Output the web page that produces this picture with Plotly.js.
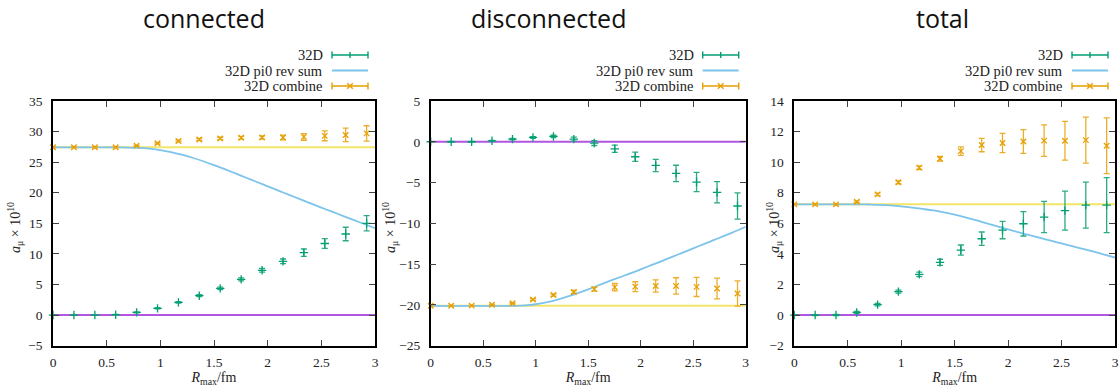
<!DOCTYPE html>
<html>
<head>
<meta charset="utf-8">
<script src="https://cdn.plot.ly/plotly-3.0.1.min.js"></script>
<style>
html,body{margin:0;padding:0;background:#fff;}
#chart{width:1119px;height:390px;}
</style>
</head>
<body>
<div id="chart"></div>
<script>
// ---------- data ----------
const panelTitles = ['connected', 'disconnected', 'total'];
const legendNames = ['32D', '32D pi0 rev sum', '32D combine'];
const xTitle = '<i>R</i><sub>max</sub>/fm';
const yTitle = '<i>a</i><sub>μ</sub> × 10<sup>10</sup>';

// R_max values of the lattice points (fm)
const R = [0, 0.195, 0.39, 0.584, 0.779, 0.974, 1.169, 1.363, 1.558, 1.753, 1.948, 2.143, 2.337, 2.532, 2.727, 2.922];
// R_max values of the smooth curve (fm)
const Rc = [0, 0.1, 0.2, 0.3, 0.4, 0.5, 0.6, 0.7, 0.8, 0.9, 1.0, 1.1, 1.2, 1.3, 1.4, 1.5, 1.6, 1.7, 1.8, 1.9, 2.0, 2.1, 2.2, 2.3, 2.4, 2.5, 2.6, 2.7, 2.8, 2.9, 3.0];
const Rends = [0, 3];

// connected
const connGreen    = [0, 0, 0, 0.05, 0.44, 1.09, 2.07, 3.16, 4.36, 5.83, 7.31, 8.78, 10.2, 11.7, 13.25, 15.0];
const connGreenErr = [0.02, 0.03, 0.04, 0.05, 0.08, 0.1, 0.13, 0.16, 0.2, 0.25, 0.3, 0.38, 0.6, 0.8, 1.1, 1.25];
const connOrange    = [27.43, 27.43, 27.43, 27.45, 27.7, 28.08, 28.46, 28.7, 28.87, 29.0, 29.03, 29.03, 29.13, 29.3, 29.45, 29.7];
const connOrangeErr = [0.05, 0.05, 0.05, 0.06, 0.1, 0.12, 0.14, 0.17, 0.2, 0.22, 0.28, 0.38, 0.55, 0.8, 1.1, 1.25];
const connBlue = [27.4, 27.4, 27.4, 27.4, 27.4, 27.4, 27.4, 27.39, 27.33, 27.2, 26.98, 26.65, 26.22, 25.72, 25.15, 24.52, 23.85, 23.15, 22.45, 21.75, 21.05, 20.35, 19.65, 18.95, 18.25, 17.57, 16.9, 16.22, 15.55, 14.88, 14.2];
const connFlat = [27.43, 27.43];

// disconnected
const discGreen    = [0, 0, 0, 0.12, 0.33, 0.53, 0.65, 0.33, -0.16, -0.86, -1.84, -2.9, -3.88, -4.94, -6.2, -7.88];
const discGreenErr = [0.02, 0.03, 0.04, 0.06, 0.08, 0.1, 0.15, 0.25, 0.3, 0.45, 0.57, 0.75, 1.0, 1.18, 1.3, 1.6];
const discOrange    = [-20.12, -20.12, -20.1, -20.0, -19.8, -19.35, -18.8, -18.42, -18.07, -17.83, -17.77, -17.7, -17.68, -17.8, -18.0, -18.6];
const discOrangeErr = [0.04, 0.04, 0.05, 0.06, 0.08, 0.1, 0.13, 0.18, 0.25, 0.47, 0.6, 0.75, 1.0, 1.18, 1.27, 1.55];
const discBlue = [-20.12, -20.12, -20.12, -20.12, -20.12, -20.12, -20.12, -20.12, -20.12, -20.07, -19.93, -19.7, -19.38, -19.0, -18.57, -18.1, -17.6, -17.1, -16.62, -16.15, -15.65, -15.14, -14.63, -14.11, -13.6, -13.08, -12.56, -12.04, -11.52, -10.98, -10.42];
const discFlat = [-20.12, -20.12];

// total
const totGreen    = [0, 0, 0, 0.17, 0.68, 1.53, 2.66, 3.45, 4.25, 4.99, 5.56, 5.97, 6.41, 6.83, 7.19, 7.19];
const totGreenErr = [0.02, 0.03, 0.04, 0.06, 0.08, 0.1, 0.14, 0.2, 0.33, 0.44, 0.57, 0.8, 1.02, 1.28, 1.5, 1.8];
const totOrange    = [7.24, 7.24, 7.24, 7.41, 7.89, 8.68, 9.64, 10.22, 10.72, 11.12, 11.25, 11.35, 11.41, 11.4, 11.44, 11.07];
const totOrangeErr = [0.04, 0.04, 0.05, 0.06, 0.08, 0.1, 0.12, 0.15, 0.28, 0.44, 0.63, 0.78, 1.03, 1.27, 1.5, 1.82];
const totBlue = [7.24, 7.24, 7.24, 7.24, 7.24, 7.24, 7.24, 7.23, 7.21, 7.17, 7.11, 7.03, 6.94, 6.84, 6.71, 6.56, 6.39, 6.2, 6.0, 5.8, 5.6, 5.41, 5.22, 5.04, 4.86, 4.68, 4.5, 4.32, 4.14, 3.95, 3.76];
const totFlat = [7.24, 7.24];

const zeroLine = [0, 0];

const yRanges = [[-5, 35], [-25, 5], [-2, 14]];
const yDticks = [5, 5, 2];

// ---------- styling / layout ----------
const W = 1119, H = 390;
const GREEN = '#009e73', ORANGE = '#e69f00', BLUE = '#7cc4ec', PURPLE = '#b056e0', YELLOW = '#f2e56a';
const SERIF = 'Liberation Serif';
const plotTop = 101, plotBot = 345.6;
const panels = [
  {x0: 53, x1: 375, titleX: 204, ylabX: 15,
   g: connGreen, ge: connGreenErr, o: connOrange, oe: connOrangeErr, b: connBlue, f: connFlat},
  {x0: 430.7, x1: 745.7, titleX: 548, ylabX: 390,
   g: discGreen, ge: discGreenErr, o: discOrange, oe: discOrangeErr, b: discBlue, f: discFlat},
  {x0: 794.3, x1: 1115, titleX: 942, ylabX: 774,
   g: totGreen, ge: totGreenErr, o: totOrange, oe: totOrangeErr, b: totBlue, f: totFlat}
];

const px = x => x / W;
const py = y => 1 - y / H;

const traces = [];
const layout = {
  width: W, height: H,
  margin: {l: 0, r: 0, t: 0, b: 0},
  paper_bgcolor: '#fff', plot_bgcolor: '#fff',
  showlegend: false,
  font: {family: SERIF, size: 13, color: '#222'},
  annotations: [], shapes: []
};

panels.forEach((p, i) => {
  const n = i === 0 ? '' : String(i + 1);
  const xa = 'x' + n, ya = 'y' + n;

  traces.push({x: Rends, y: zeroLine, xaxis: xa, yaxis: ya, mode: 'lines', name: 'zero',
    line: {color: PURPLE, width: 2}, hoverinfo: 'skip'});
  traces.push({x: Rends, y: p.f, xaxis: xa, yaxis: ya, mode: 'lines', name: 'flat',
    line: {color: YELLOW, width: 2}, hoverinfo: 'skip'});
  traces.push({x: Rc, y: p.b, xaxis: xa, yaxis: ya, mode: 'lines', name: legendNames[1],
    line: {color: BLUE, width: 1.8, shape: 'spline'}});
  traces.push({x: R, y: p.g, xaxis: xa, yaxis: ya, mode: 'markers', name: legendNames[0], cliponaxis: false,
    marker: {symbol: 'cross-thin-open', size: 6, color: GREEN, line: {color: GREEN, width: 1.3}},
    error_y: {type: 'data', array: p.ge, visible: true, color: '#2aab86', thickness: 1.3, width: 3}});
  traces.push({x: R, y: p.o, xaxis: xa, yaxis: ya, mode: 'markers', name: legendNames[2], cliponaxis: false,
    marker: {symbol: 'x-thin-open', size: 5.5, color: ORANGE, line: {color: ORANGE, width: 1.3}},
    error_y: {type: 'data', array: p.oe, visible: true, color: '#ecae2a', thickness: 1.3, width: 3}});

  const axCommon = {
    ticks: 'inside', ticklen: 6, tickwidth: 1.2, tickcolor: '#444',
    showline: true, linecolor: '#000', linewidth: 1.5, mirror: 'allticks',
    showgrid: false, zeroline: false,
    tickfont: {family: SERIF, size: 13.5, color: '#222'}
  };
  layout['xaxis' + n] = Object.assign({}, axCommon, {
    domain: [px(p.x0), px(p.x1)], range: [0, 3], tick0: 0, dtick: 0.5,
    anchor: ya, ticklabelstandoff: 3,
    title: {text: xTitle, font: {family: SERIF, size: 14, color: '#222'}, standoff: 4}
  });
  layout['yaxis' + n] = Object.assign({}, axCommon, {
    domain: [py(plotBot), py(plotTop)], range: yRanges[i], tick0: 0, dtick: yDticks[i],
    anchor: xa, ticklabelstandoff: 6
  });

  // panel title
  layout.annotations.push({text: panelTitles[i], xref: 'paper', yref: 'paper',
    x: px(p.titleX), y: py(18), xanchor: 'center', yanchor: 'middle', showarrow: false,
    font: {family: 'Open Sans', size: 25, color: '#111'}});
  // y-axis title
  layout.annotations.push({text: yTitle, xref: 'paper', yref: 'paper',
    x: px(p.ylabX), y: py(228), xanchor: 'center', yanchor: 'middle', textangle: -90, showarrow: false,
    font: {family: SERIF, size: 14, color: '#222'}});

  // legend (text left, sample right)
  const rows = [55, 70.5, 86];
  const tx = p.x1 - 50, s0 = p.x1 - 43, s1 = p.x1 - 7, sm = (s0 + s1) / 2;
  const cols = [GREEN, BLUE, ORANGE];
  rows.forEach((ry, k) => {
    layout.annotations.push({text: legendNames[k], xref: 'paper', yref: 'paper',
      x: px(tx), y: py(ry), xanchor: 'right', yanchor: 'middle', showarrow: false,
      font: {family: SERIF, size: 14.5, color: '#222'}});
    const ln = (xa_, ya_, xb, yb, w) => layout.shapes.push({type: 'line', xref: 'paper', yref: 'paper',
      x0: px(xa_), y0: py(ya_), x1: px(xb), y1: py(yb), line: {color: cols[k], width: w || 1.4}});
    ln(s0, ry, s1, ry, k === 1 ? 1.8 : 1.4);
    if (k !== 1) {
      ln(s0, ry - 3.5, s0, ry + 3.5);
      ln(s1, ry - 3.5, s1, ry + 3.5);
    }
    if (k === 0) ln(sm, ry - 3, sm, ry + 3);
    if (k === 2) { ln(sm - 2.8, ry - 2.8, sm + 2.8, ry + 2.8); ln(sm - 2.8, ry + 2.8, sm + 2.8, ry - 2.8); }
  });
});

Plotly.newPlot('chart', traces, layout, {displayModeBar: false});
</script>
</body>
</html>
